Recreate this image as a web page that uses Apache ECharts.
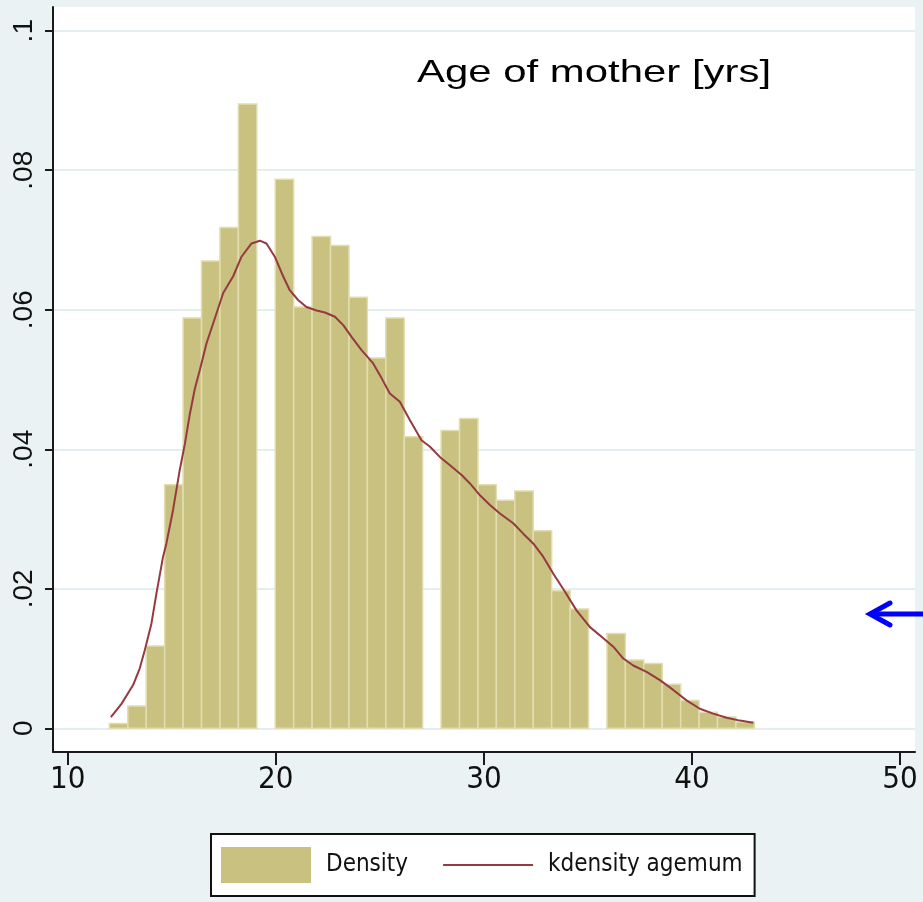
<!DOCTYPE html>
<html>
<head>
<meta charset="utf-8">
<script src="https://cdn.jsdelivr.net/npm/echarts@6/dist/echarts.min.js"></script>
<style>html,body{margin:0;padding:0;background:#eaf2f3;}#c{width:923px;height:902px;}</style>
</head>
<body>
<div id="c"></div>
<script>
// Histogram bins (Stata: start 12, 35 bins of width 31/35)
const binStart = 12;
const binWidth = 31 / 35;
const densityValues = [
  0.0007, 0.0032, 0.0118, 0.0349, 0.0588, 0.0670, 0.0718, 0.0895, 0,
  0.0787, 0.0604, 0.0705, 0.0692, 0.0618, 0.0531, 0.0588, 0.0418, 0,
  0.0427, 0.0444, 0.0349, 0.0327, 0.0340, 0.0283, 0.0197, 0.0171, 0,
  0.0136, 0.0098, 0.0093, 0.0063, 0.0040, 0.0023, 0.0016, 0.0009
];
// kernel density curve
const kdAge = [12.07, 12.58, 13.14, 13.46, 13.70, 14.02, 14.26, 14.58, 14.74, 15.06, 15.38, 15.63, 15.87, 16.11, 16.35, 16.67,
  17.15, 17.47, 17.95, 18.35, 18.83, 19.23, 19.55, 19.95, 20.35, 20.67, 21.07, 21.47, 21.96, 22.36, 22.84, 23.24, 23.64, 24.12,
  24.68, 25.08, 25.48, 25.96, 26.44, 27.0, 27.4, 27.88, 28.37, 28.93, 29.33, 29.81, 30.29, 30.77, 31.41, 31.89, 32.37, 32.85,
  33.33, 33.89, 34.45, 35.1, 35.74, 36.22, 36.70, 37.18, 37.82, 38.46, 39.1, 39.74, 40.38, 41.02, 41.67, 42.31, 42.95];
const kdDensity = [0.0016, 0.0035, 0.0062, 0.0086, 0.0112, 0.0150, 0.0193, 0.0246, 0.0265, 0.0313, 0.0370, 0.0408, 0.0451, 0.0487, 0.0514, 0.0552,
  0.0595, 0.0624, 0.0648, 0.0676, 0.0695, 0.0699, 0.0695, 0.0676, 0.0648, 0.0628, 0.0614, 0.0604, 0.0599, 0.0596, 0.0590, 0.0578, 0.0561, 0.0542,
  0.0523, 0.0502, 0.0480, 0.0468, 0.0442, 0.0413, 0.0404, 0.0389, 0.0377, 0.0363, 0.0351, 0.0334, 0.0320, 0.0308, 0.0294, 0.0279, 0.0265, 0.0246,
  0.0222, 0.0196, 0.0169, 0.0145, 0.0129, 0.0117, 0.0100, 0.0090, 0.0081, 0.0069, 0.0055, 0.0040, 0.0028, 0.0021, 0.0015, 0.0011, 0.0008];
const xTicks = [10, 20, 30, 40, 50];
const yTicks = [0, 0.02, 0.04, 0.06, 0.08, 0.1];
const titleText = 'Age of mother [yrs]';
const seriesNames = ['Density', 'kdensity agemum'];

const narrow = "'Liberation Sans Narrow', 'DejaVu Sans Condensed', 'Liberation Sans', sans-serif";
const chart = echarts.init(document.getElementById('c'), null, {renderer: 'canvas'});
const histData = densityValues.map((v, i) => [i, v]);
const kdData = kdAge.map((a, i) => [a, kdDensity[i]]);

chart.setOption({
  backgroundColor: '#eaf2f3',
  animation: false,
  grid: {left: 53, right: 8, top: 7, bottom: 150, show: true, backgroundColor: '#ffffff', borderWidth: 0, outerBoundsMode: 'none'},
  xAxis: {
    type: 'value', min: 9.29, max: 50.72,
    axisLine: {show: true, onZero: false, lineStyle: {color: '#1a1a1a', width: 2}},
    axisTick: {show: true, length: 13, customValues: xTicks, lineStyle: {color: '#1a1a1a', width: 2}},
    axisLabel: {customValues: xTicks, margin: 12, color: '#111', fontSize: 31, fontFamily: narrow},
    splitLine: {show: false}
  },
  yAxis: {
    type: 'value', min: -0.0034, max: 0.1034,
    axisLine: {show: true, onZero: false, lineStyle: {color: '#1a1a1a', width: 2}},
    axisTick: {show: true, length: 8, customValues: yTicks, lineStyle: {color: '#1a1a1a', width: 2}},
    axisLabel: {customValues: yTicks, rotate: 90, margin: 15, color: '#111', fontSize: 28, fontFamily: "'Liberation Sans', Arial, sans-serif",
      formatter: v => v === 0 ? '0' : String(v).replace(/^0/, '')},
    splitLine: {show: true, lineStyle: {color: '#e4edf0', width: 2}}
  },
  legend: {
    left: 211, top: 834, orient: 'horizontal',
    backgroundColor: '#fff', borderColor: '#111', borderWidth: 2, borderRadius: 0,
    padding: [13, 12, 13, 10], itemGap: 35, itemWidth: 90, itemHeight: 36,
    textStyle: {fontSize: 24, fontFamily: narrow, color: '#111', padding: [0, 0, 0, 10]},
    data: [
      {name: seriesNames[0], icon: 'rect'},
      {name: seriesNames[1], icon: 'path://M0,0H90V2H0Z', itemStyle: {color: '#953a40'}}
    ]
  },
  graphic: [
    {type: 'text', x: 417, y: 73, scaleX: 1.31, style: {text: titleText, fill: '#000', font: "32px 'Liberation Sans', Arial, sans-serif", textAlign: 'left', textVerticalAlign: 'middle'}},
    {type: 'line', shape: {x1: 872, y1: 614, x2: 923, y2: 614}, style: {stroke: '#0000ff', lineWidth: 5}},
    {type: 'polyline', shape: {points: [[890, 603], [870, 614], [890, 625]]}, style: {stroke: '#0000ff', lineWidth: 5, lineCap: 'round', lineJoin: 'miter', fill: null}}
  ],
  series: [
    {
      name: seriesNames[0], type: 'custom',
      itemStyle: {color: '#c8c17f'},
      data: histData,
      encode: {x: -1, y: 1},
      renderItem: function (params, api) {
        const i = api.value(0), h = api.value(1);
        if (!h) return null;
        const x0 = binStart + i * binWidth;
        const p0 = api.coord([x0, h]);
        const p1 = api.coord([x0 + binWidth, 0]);
        return {type: 'rect', shape: {x: p0[0], y: p0[1], width: p1[0] - p0[0], height: p1[1] - p0[1]},
          style: {fill: '#c8c17f', stroke: '#e2ddb0', lineWidth: 1.5}};
      },
      z: 2
    },
    {
      name: seriesNames[1], type: 'line', data: kdData, symbol: 'none', showSymbol: false,
      lineStyle: {color: '#953a40', width: 2}, itemStyle: {color: '#953a40'}, z: 3
    }
  ]
});
</script>
</body>
</html>
